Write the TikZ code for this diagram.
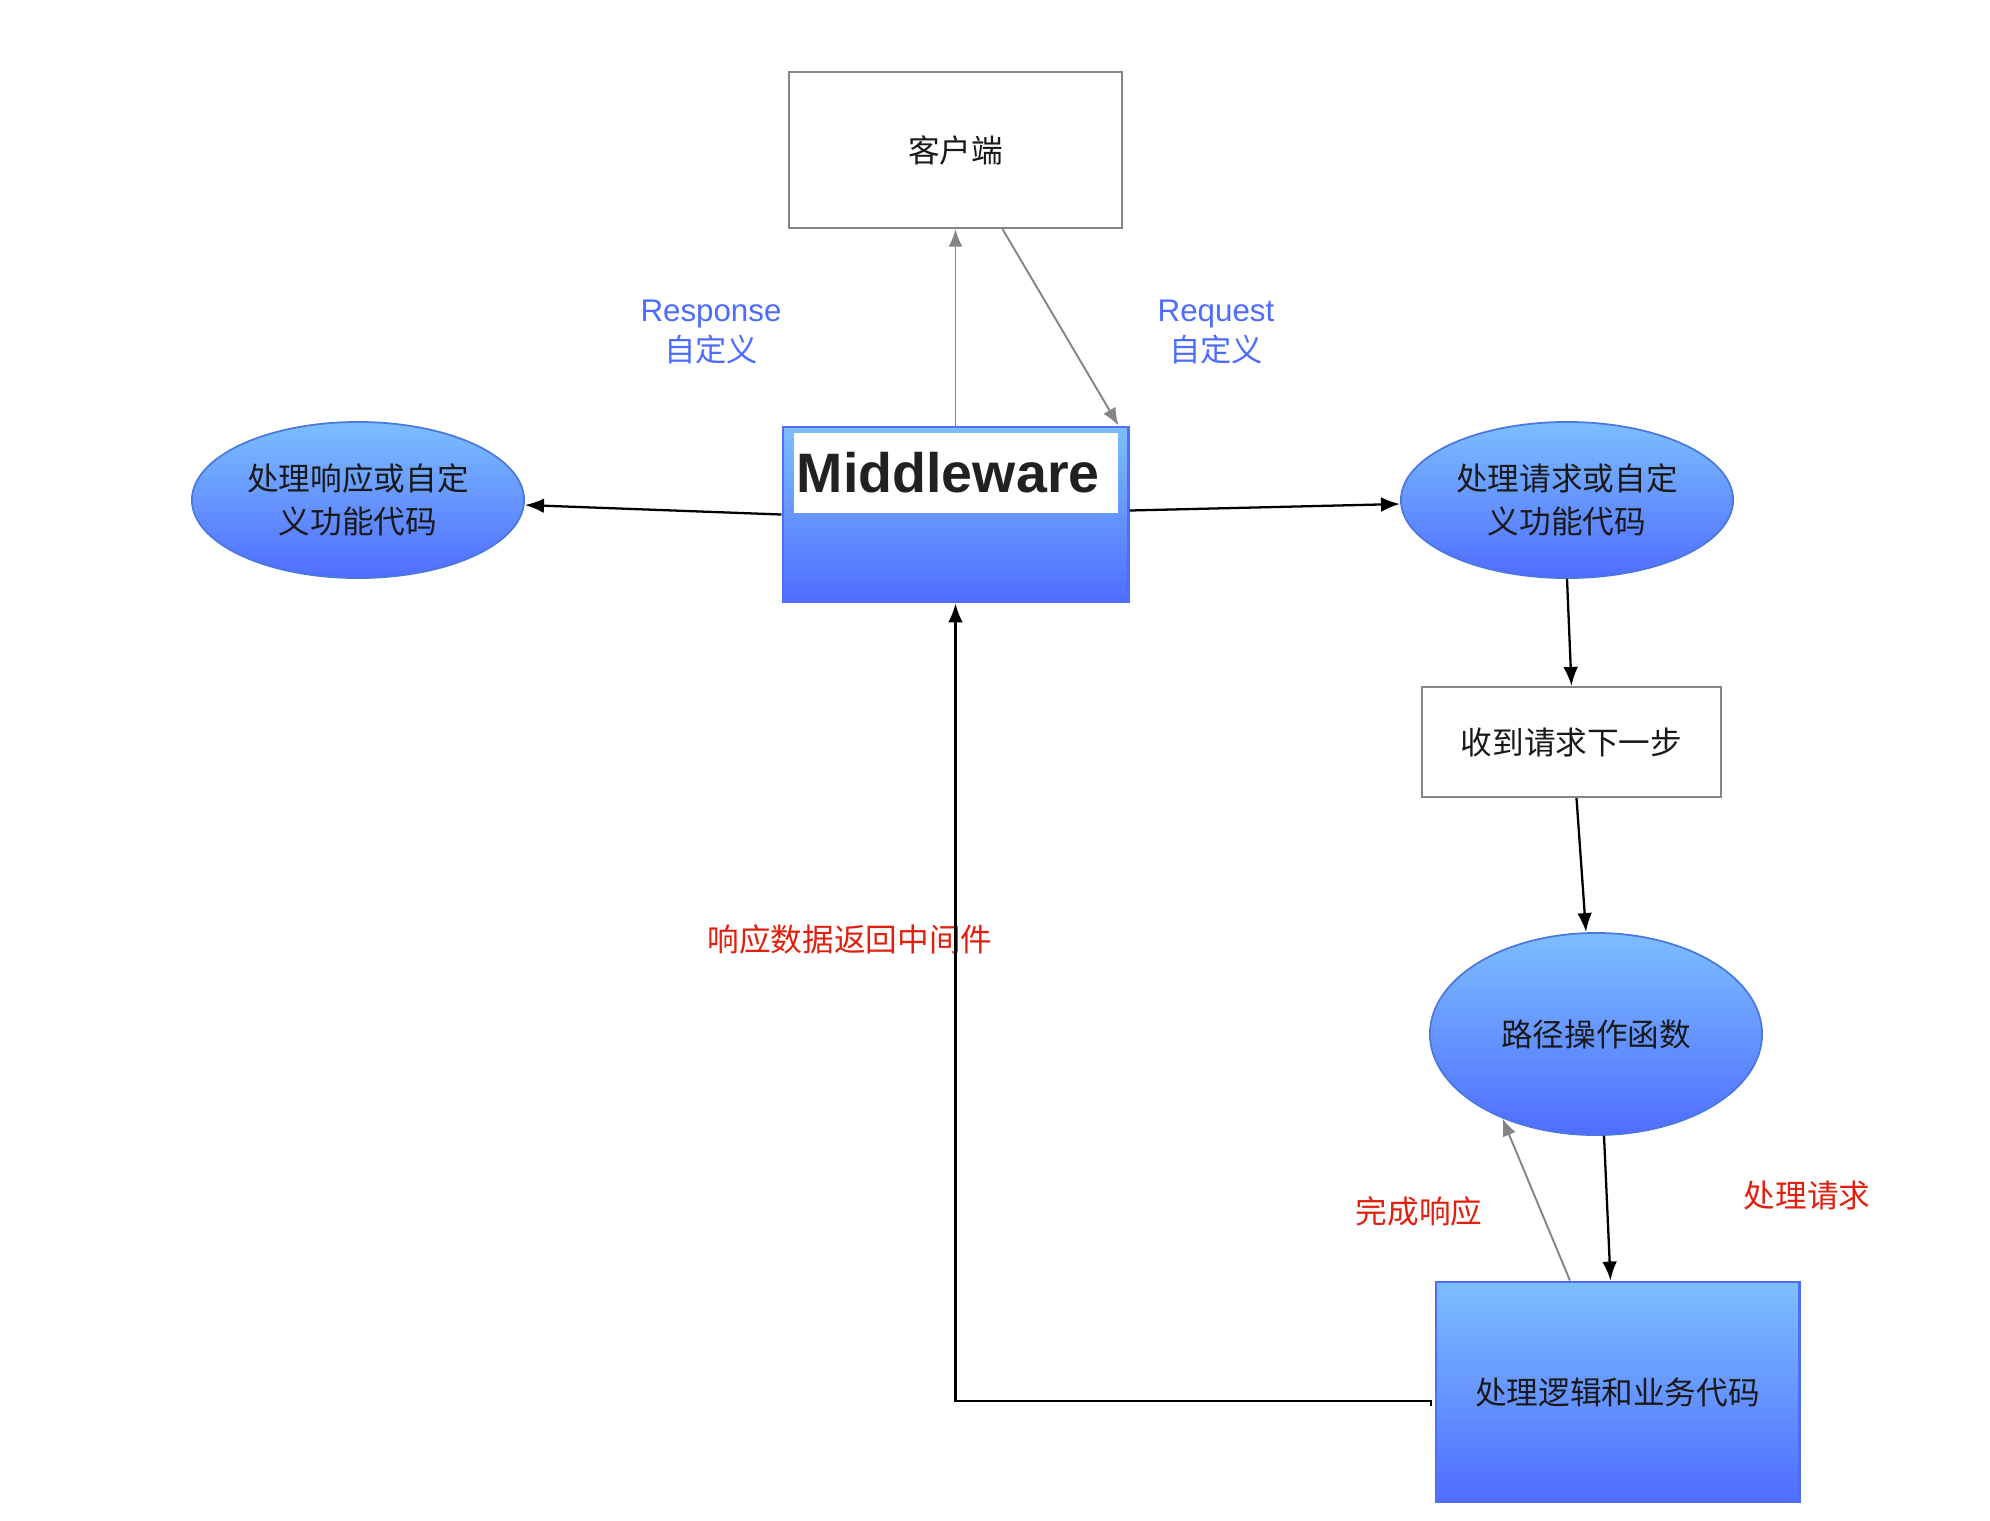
\documentclass[tikz,border=0pt]{standalone}
\usepackage{fontspec}
\setmainfont{Noto Sans CJK SC}
\newfontfamily\latinfont{Liberation Sans}
\usetikzlibrary{arrows.meta,shapes.geometric}

\definecolor{gradtop}{HTML}{7CBEFF}
\definecolor{gradbot}{HTML}{4F6DFF}
\definecolor{edgeblue}{HTML}{4F6EF7}
\definecolor{ovaledge}{HTML}{4A78E0}
\definecolor{labelblue}{HTML}{4D6CFF}
\definecolor{labelred}{HTML}{E0200F}
\definecolor{linegray}{HTML}{858585}

\tikzset{
	cjk/.style={font=\fontsize{9}{12.2}\selectfont, text=black!90, align=center},
	plainbox/.style={cjk, rectangle, draw=linegray, line width=0.6pt, fill=white, inner sep=0pt},
	bluebox/.style={cjk, rectangle, draw=edgeblue, line width=0.8pt, top color=gradtop, bottom color=gradbot, inner sep=0pt},
	blueoval/.style={cjk, ellipse, draw=ovaledge, line width=0.5pt, top color=gradtop, bottom color=gradbot, inner sep=0pt},
	flow/.style={-{Latex[length=5.4pt,width=4.2pt]}, line width=0.65pt, black},
	back/.style={-{Latex[length=5pt,width=4pt]}, line width=0.55pt, linegray},
	note/.style={font=\fontsize{8.9}{11.6}\selectfont, align=center}
}

\begin{document}
\begin{tikzpicture}[x=0.01cm, y=-0.01cm]
	\useasboundingbox (0,0) rectangle (1990,1520);

	% client and middleware
	\node[plainbox, minimum width=3.33cm, minimum height=1.56cm] (client) at (955.5,150) {客户端};
	\node[bluebox, minimum width=3.45cm, minimum height=1.75cm] (mw) at (955.5,514.5) {};
	\node[fill=white, inner xsep=0.03cm, inner ysep=0pt, text width=3.18cm, minimum height=0.8cm, align=left,
		font=\latinfont\bfseries\fontsize{15.8}{16}\selectfont, text=black!87] (mwtitle) at (956,473) {Middleware};

	% handlers left and right
	\node[blueoval, minimum width=3.32cm, minimum height=1.56cm] (resp) at (358,500) {处理响应或自定\\义功能代码};
	\node[blueoval, minimum width=3.32cm, minimum height=1.56cm] (req) at (1567,500) {处理请求或自定\\义功能代码};

	% route path
	\node[plainbox, minimum width=2.99cm, minimum height=1.10cm] (next) at (1571.5,742) {收到请求下一步};
	\node[blueoval, minimum width=3.32cm, minimum height=2.02cm] (route) at (1596,1034) {路径操作函数};
	\node[bluebox, minimum width=3.63cm, minimum height=2.20cm] (logic) at (1617.5,1392) {处理逻辑和业务代码};

	% labels
	\node[note, text=labelblue] (resplabel) at (711,332) {{\latinfont Response}\\自定义};
	\node[note, text=labelblue] (reqlabel) at (1216,332) {{\latinfont Request}\\自定义};
	\node[cjk, text=labelred] (backlabel) at (850,939) {响应数据返回中间件};
	\node[cjk, text=labelred] (donelabel) at (1419,1211) {完成响应};
	\node[cjk, text=labelred] (worklabel) at (1807,1195) {处理请求};

	% arrows
	\draw[back] (mw.north) -- (client.south);
	\draw[back] ([xshift=0.47cm]client.south) -- ([xshift=-0.11cm]mw.north east);
	\draw[flow] (mw.west) -- ([yshift=-0.05cm]resp.east);
	\draw[flow] ([yshift=0.04cm]mw.east) -- ([yshift=-0.04cm]req.west);
	\draw[flow] (req.south) -- (next.north);
	\draw[flow] ([xshift=0.05cm]next.south) -- ([xshift=-0.1cm]route.north);
	\draw[flow] ([xshift=0.08cm]route.south) -- ([xshift=-0.07cm]logic.north);
	\draw[back] ([xshift=-0.475cm]logic.north) -- (route.-138);

	% back to middleware
	\coordinate (turn) at (1431,1406);
	\draw[flow] (turn) -- ++(0,-5) -| (mw.south);

\end{tikzpicture}
\end{document}
